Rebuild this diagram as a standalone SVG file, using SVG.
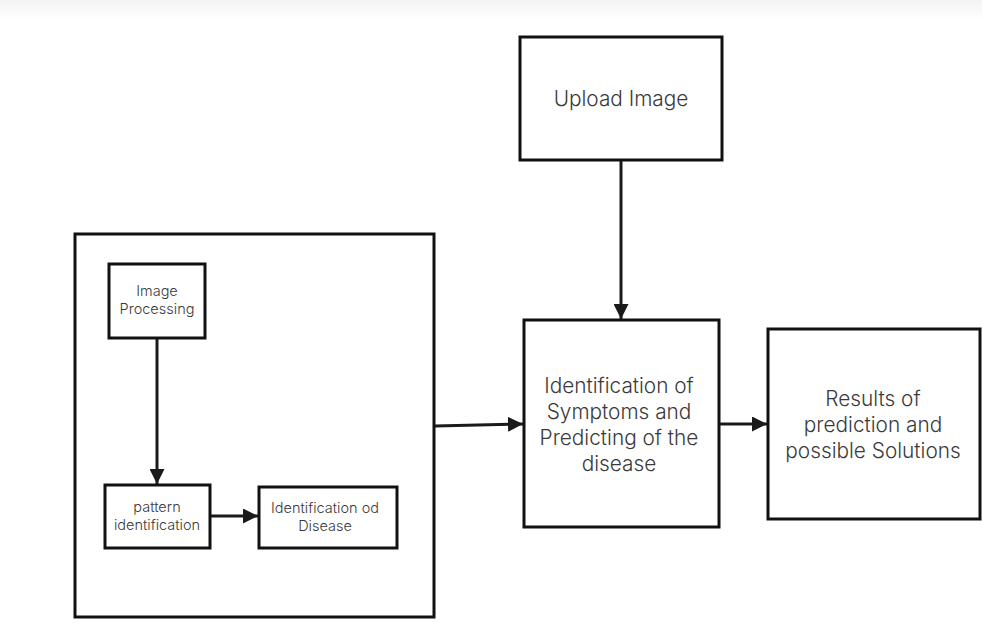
<svg xmlns="http://www.w3.org/2000/svg" width="982" height="633" viewBox="0 0 982 633">
<defs>
<linearGradient id="topfade" x1="0" y1="0" x2="0" y2="1">
<stop offset="0" stop-color="#f4f4f4"/>
<stop offset="1" stop-color="#ffffff"/>
</linearGradient>
<marker id="ah" viewBox="0 0 10 10" refX="10" refY="5" markerWidth="5" markerHeight="5" markerUnits="strokeWidth" orient="auto">
<path d="M0,0 L10,5 L0,10 Z" fill="#1a1a1a"/>
</marker>
<style>
.box{fill:#fff;stroke:#111;stroke-width:3}
.t{font-family:Inter,"Liberation Sans",sans-serif;fill:#3a3a3a;text-anchor:middle;font-weight:300}
.big{font-size:20.8px}
.sm{font-size:14.5px}
.c{stroke:#1a1a1a;stroke-width:3;fill:none;marker-end:url(#ah)}
</style>
</defs>
<rect width="982" height="633" fill="#fff"/>
<rect width="982" height="20" fill="url(#topfade)"/>
<g id="container"><rect class="box" x="75" y="234" width="359" height="383"/></g>
<g id="upload"><rect class="box" x="520" y="37" width="202" height="123"/>
<text class="t big" x="621" y="106">Upload Image</text></g>
<g id="identify"><rect class="box" x="524" y="320" width="195" height="207"/>
<text class="t big"><tspan x="619" y="393">Identification of</tspan><tspan x="619" y="419">Symptoms and</tspan><tspan x="619" y="445">Predicting of the</tspan><tspan x="619" y="471">disease</tspan></text></g>
<g id="results"><rect class="box" x="768" y="329" width="212" height="190"/>
<text class="t big"><tspan x="873" y="406">Results of</tspan><tspan x="873" y="432">prediction and</tspan><tspan x="873" y="458">possible Solutions</tspan></text></g>
<g id="imgproc"><rect class="box" x="109" y="264" width="96" height="74"/>
<text class="t sm"><tspan x="157" y="296">Image</tspan><tspan x="157" y="314">Processing</tspan></text></g>
<g id="pattern"><rect class="box" x="105" y="485" width="105" height="63"/>
<text class="t sm"><tspan x="157" y="512">pattern</tspan><tspan x="157" y="530">identification</tspan></text></g>
<g id="disease"><rect class="box" x="259" y="487" width="138" height="61"/>
<text class="t sm"><tspan x="325" y="513">Identification od</tspan><tspan x="325" y="531">Disease</tspan></text></g>
<g id="connectors">
<line class="c" x1="621" y1="161" x2="621" y2="319"/>
<line class="c" x1="435" y1="426" x2="523" y2="424"/>
<line class="c" x1="720" y1="424" x2="767" y2="424"/>
<line class="c" x1="157" y1="339" x2="157" y2="484"/>
<line class="c" x1="211" y1="516" x2="258" y2="516"/>
</g>
</svg>
